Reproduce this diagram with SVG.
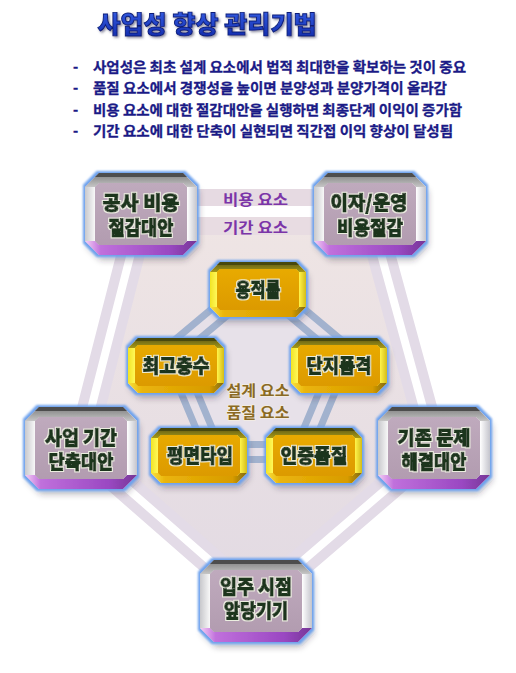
<svg xmlns="http://www.w3.org/2000/svg" xmlns:xlink="http://www.w3.org/1999/xlink" width="516" height="673" viewBox="0 0 516 673">
<style>
.ko{font-family:"Noto Sans CJK KR","Noto Sans CJK SC",sans-serif;font-weight:bold}
.title{font-size:24px;font-weight:900;fill:url(#titleG);stroke:#0b1d78;stroke-width:0.9px;text-anchor:middle}
.bul{font-size:14px;fill:#1a1a86;stroke:#1a1a86;stroke-width:0.3px}
.nt{font-size:19.5px;font-weight:900;fill:#1b361f;stroke:#1b361f;stroke-width:0.9px;text-anchor:middle}
.lbp{font-size:15px;fill:#7b35a8;text-anchor:middle}
.lbg{font-size:15px;fill:#8a6a24;stroke:#f4eee4;stroke-width:1.5px;paint-order:stroke;text-anchor:middle}
</style>
<defs>
<linearGradient id="titleG" x1="0" y1="0" x2="0" y2="1"><stop offset="0" stop-color="#3a64ec"/><stop offset="1" stop-color="#1028a8"/></linearGradient>
<linearGradient id="bgFill" x1="0" y1="0" x2="0" y2="1"><stop offset="0" stop-color="#efe5e4"/><stop offset="1" stop-color="#e2dae3"/></linearGradient>
<linearGradient id="pTop" x1="0" y1="0" x2="0" y2="1"><stop offset="0" stop-color="#7c7c7c"/><stop offset="1" stop-color="#c6c6c6"/></linearGradient>
<linearGradient id="pLeft" x1="0" y1="0" x2="1" y2="0"><stop offset="0" stop-color="#c8c8cc"/><stop offset="1" stop-color="#f8f8f8"/></linearGradient>
<linearGradient id="pRight" x1="0" y1="0" x2="1" y2="0"><stop offset="0" stop-color="#ffffff"/><stop offset="1" stop-color="#c4c4cc"/></linearGradient>
<linearGradient id="pBot" x1="0" y1="0" x2="1" y2="0"><stop offset="0" stop-color="#f6d0f6"/><stop offset="0.14" stop-color="#c070dc"/><stop offset="0.75" stop-color="#9a48c2"/><stop offset="1" stop-color="#763696"/></linearGradient>
<linearGradient id="pFace" x1="0" y1="0" x2="0" y2="1"><stop offset="0" stop-color="#bfaabd"/><stop offset="1" stop-color="#b29cb0"/></linearGradient>
<linearGradient id="gTop" x1="0" y1="0" x2="0" y2="1"><stop offset="0" stop-color="#5a5610"/><stop offset="1" stop-color="#a89a18"/></linearGradient>
<linearGradient id="gLeft" x1="0" y1="0" x2="1" y2="0"><stop offset="0" stop-color="#f2e424"/><stop offset="1" stop-color="#fff85a"/></linearGradient>
<linearGradient id="gRight" x1="0" y1="0" x2="1" y2="0"><stop offset="0" stop-color="#fff44a"/><stop offset="1" stop-color="#d4bc18"/></linearGradient>
<linearGradient id="gBot" x1="0" y1="0" x2="1" y2="0"><stop offset="0" stop-color="#f8e040"/><stop offset="0.15" stop-color="#eab40a"/><stop offset="0.85" stop-color="#d89c00"/><stop offset="1" stop-color="#7a6810"/></linearGradient>
<linearGradient id="gFace" x1="0" y1="0" x2="0" y2="1"><stop offset="0" stop-color="#e8aa00"/><stop offset="1" stop-color="#dc9a00"/></linearGradient>
<filter id="fx" x="-15%" y="-15%" width="135%" height="150%">
  <feGaussianBlur in="SourceAlpha" stdDeviation="3" result="b"/>
  <feOffset in="b" dx="2" dy="5" result="o"/>
  <feFlood flood-color="#302838" flood-opacity="0.35"/>
  <feComposite in2="o" operator="in" result="shadow"/>
  <feMorphology in="SourceAlpha" operator="dilate" radius="2" result="d"/>
  <feGaussianBlur in="d" stdDeviation="1.2" result="db"/>
  <feFlood flood-color="#6ea2ee"/>
  <feComposite in2="db" operator="in" result="glow"/>
  <feMerge><feMergeNode in="shadow"/><feMergeNode in="glow"/><feMergeNode in="SourceGraphic"/></feMerge>
</filter>
<filter id="halo" x="-10%" y="-25%" width="120%" height="150%">
  <feMorphology in="SourceAlpha" operator="dilate" radius="1.3" result="h"/>
  <feFlood flood-color="#eef2e2" flood-opacity="0.95"/>
  <feComposite in2="h" operator="in" result="hl"/>
  <feMerge><feMergeNode in="hl"/><feMergeNode in="SourceGraphic"/></feMerge>
</filter>
<filter id="tsh" x="-5%" y="-20%" width="110%" height="150%">
  <feDropShadow dx="1.5" dy="1.5" stdDeviation="0.8" flood-color="#404060" flood-opacity="0.6"/>
</filter>
<g id="pnode">
  <polygon points="14,0 98,0 112,14 112,68 98,82 14,82 0,68 0,14" fill="url(#pLeft)"/>
  <polygon points="0,14 14,0 98,0 112,14 102,14 98,10 14,10 10,14" fill="url(#pTop)"/>
  <polygon points="14,0 98,0 102,4 10,4" fill="#4e4e4e"/>
  <polygon points="0,14 10,14 10,68 0,68" fill="url(#pLeft)"/>
  <polygon points="112,14 102,14 102,68 112,68" fill="url(#pRight)"/>
  <polygon points="0,68 10,68 14,72 98,72 102,68 112,68 98,82 14,82" fill="url(#pBot)"/>
  <polygon points="14,10 98,10 102,14 102,68 98,72 14,72 10,68 10,14" fill="url(#pFace)"/>
</g>
<g id="gnode">
  <polygon points="10,0 86,0 96,10 96,45 86,55 10,55 0,45 0,10" fill="url(#gLeft)"/>
  <polygon points="0,10 10,0 86,0 96,10 89,10 86,7 10,7 7,10" fill="url(#gTop)"/>
  <polygon points="10,0 86,0 89,3 7,3" fill="#4a4810"/>
  <polygon points="0,10 7,10 7,45 0,45" fill="url(#gLeft)"/>
  <polygon points="96,10 89,10 89,45 96,45" fill="url(#gRight)"/>
  <polygon points="0,45 7,45 10,48 86,48 89,45 96,45 86,55 10,55" fill="url(#gBot)"/>
  <polygon points="10,7 86,7 89,10 89,45 86,48 10,48 7,45 7,10" fill="url(#gFace)"/>
</g>
</defs>

<rect width="516" height="673" fill="#ffffff"/>

<g id="header">
  <text class="ko title" x="207" y="33" textLength="219" lengthAdjust="spacingAndGlyphs" filter="url(#tsh)">사업성 향상 관리기법</text>
  <text class="ko bul" x="73" y="72">-</text>
  <text class="ko bul" x="93" y="72" textLength="373" lengthAdjust="spacingAndGlyphs">사업성은 최초 설계 요소에서 법적 최대한을 확보하는 것이 중요</text>
  <text class="ko bul" x="73" y="93">-</text>
  <text class="ko bul" x="93" y="93" textLength="354" lengthAdjust="spacingAndGlyphs">품질 요소에서 경쟁성을 높이면 분양성과 분양가격이 올라감</text>
  <text class="ko bul" x="73" y="115">-</text>
  <text class="ko bul" x="93" y="115" textLength="369" lengthAdjust="spacingAndGlyphs">비용 요소에 대한 절감대안을 실행하면 최종단계 이익이 증가함</text>
  <text class="ko bul" x="73" y="136">-</text>
  <text class="ko bul" x="93" y="136" textLength="360" lengthAdjust="spacingAndGlyphs">기간 요소에 대한 단축이 실현되면 직간접 이익 향상이 달성됨</text>
</g>

<g id="connectors">
  <polygon points="141,214 370,214 434,448 256,601 81,448" fill="url(#bgFill)"/>
  <path d="M141,214 L81,448 L256,601 L434,448 L370,214" fill="none" stroke="#e3dbe7" stroke-width="28" stroke-linejoin="round"/>
  <path d="M141,214 L81,448 L256,601 L434,448 L370,214" fill="none" stroke="#ffffff" stroke-width="8" stroke-linejoin="round"/>
  <rect x="150" y="189" width="210" height="17" fill="#e6dae2"/>
  <rect x="150" y="206" width="210" height="11" fill="#ffffff"/>
  <rect x="150" y="217" width="210" height="18" fill="#e8dce2"/>
  <path d="M258,280 L344,352 L302,452 L214,452 L172,352 Z" fill="#e7e1e9" stroke="#a2b2ce" stroke-width="22" stroke-linejoin="round"/>
  <path d="M258,280 L344,352 L302,452 L214,452 L172,352 Z" fill="none" stroke="#e6e0e8" stroke-width="8" stroke-linejoin="round"/>
  <text class="ko lbp" x="255.5" y="204.5" textLength="65" lengthAdjust="spacingAndGlyphs">비용 요소</text>
  <text class="ko lbp" x="255.5" y="232.5" textLength="65" lengthAdjust="spacingAndGlyphs">기간 요소</text>
  <text class="ko lbg" x="258" y="395.5" textLength="63" lengthAdjust="spacingAndGlyphs">설계 요소</text>
  <text class="ko lbg" x="258" y="417.5" textLength="63" lengthAdjust="spacingAndGlyphs">품질 요소</text>
</g>

<g id="node-cost" transform="translate(85,173)">
  <use xlink:href="#pnode" href="#pnode" filter="url(#fx)"/>
  <text class="ko nt" filter="url(#halo)" x="56" y="36.5" textLength="77" lengthAdjust="spacingAndGlyphs">공사 비용</text>
  <text class="ko nt" filter="url(#halo)" x="56" y="61.5" textLength="65" lengthAdjust="spacingAndGlyphs">절감대안</text>
</g>
<g id="node-interest" transform="translate(314,173)">
  <use xlink:href="#pnode" href="#pnode" filter="url(#fx)"/>
  <text class="ko nt" filter="url(#halo)" x="55" y="36.5" textLength="77" lengthAdjust="spacingAndGlyphs">이자/운영</text>
  <text class="ko nt" filter="url(#halo)" x="56" y="61.5" textLength="66" lengthAdjust="spacingAndGlyphs">비용절감</text>
</g>
<g id="node-period" transform="translate(25,407)">
  <use xlink:href="#pnode" href="#pnode" filter="url(#fx)"/>
  <text class="ko nt" filter="url(#halo)" x="56" y="38" textLength="72" lengthAdjust="spacingAndGlyphs">사업 기간</text>
  <text class="ko nt" filter="url(#halo)" x="56" y="62" textLength="65" lengthAdjust="spacingAndGlyphs">단축대안</text>
</g>
<g id="node-problem" transform="translate(378,407)">
  <use xlink:href="#pnode" href="#pnode" filter="url(#fx)"/>
  <text class="ko nt" filter="url(#halo)" x="56" y="38" textLength="73" lengthAdjust="spacingAndGlyphs">기존 문제</text>
  <text class="ko nt" filter="url(#halo)" x="56" y="62" textLength="65" lengthAdjust="spacingAndGlyphs">해결대안</text>
</g>
<g id="node-movein" transform="translate(200,560)">
  <use xlink:href="#pnode" href="#pnode" filter="url(#fx)"/>
  <text class="ko nt" filter="url(#halo)" x="56" y="34" textLength="72" lengthAdjust="spacingAndGlyphs">입주 시점</text>
  <text class="ko nt" filter="url(#halo)" x="56" y="57.5" textLength="64" lengthAdjust="spacingAndGlyphs">앞당기기</text>
</g>

<g id="node-far" transform="translate(210,262)">
  <use xlink:href="#gnode" href="#gnode" filter="url(#fx)"/>
  <text class="ko nt" filter="url(#halo)" x="48" y="35" textLength="45" lengthAdjust="spacingAndGlyphs">용적률</text>
</g>
<g id="node-height" transform="translate(128,338)">
  <use xlink:href="#gnode" href="#gnode" filter="url(#fx)"/>
  <text class="ko nt" filter="url(#halo)" x="48" y="35" textLength="67" lengthAdjust="spacingAndGlyphs">최고층수</text>
</g>
<g id="node-grade" transform="translate(291,338)">
  <use xlink:href="#gnode" href="#gnode" filter="url(#fx)"/>
  <text class="ko nt" filter="url(#halo)" x="48" y="35" textLength="65" lengthAdjust="spacingAndGlyphs">단지품격</text>
</g>
<g id="node-plan" transform="translate(151,428)">
  <use xlink:href="#gnode" href="#gnode" filter="url(#fx)"/>
  <text class="ko nt" filter="url(#halo)" x="49" y="35" textLength="66" lengthAdjust="spacingAndGlyphs">평면타입</text>
</g>
<g id="node-cert" transform="translate(266,428)">
  <use xlink:href="#gnode" href="#gnode" filter="url(#fx)"/>
  <text class="ko nt" filter="url(#halo)" x="48" y="35" textLength="67" lengthAdjust="spacingAndGlyphs">인증품질</text>
</g>
</svg>
